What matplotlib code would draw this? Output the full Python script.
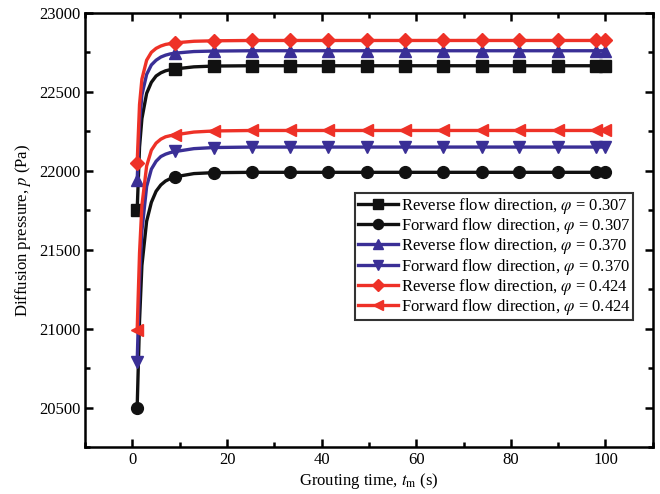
import matplotlib
matplotlib.use("Agg")
import matplotlib.pyplot as plt
import numpy as np
from matplotlib.ticker import MultipleLocator

plt.rcParams["font.family"] = ["Liberation Serif", "DejaVu Serif"]
plt.rcParams["mathtext.fontset"] = "stix"

# grouting time (s); marked points are a subset
t = [1, 1.5, 2, 3, 4, 5, 6, 7, 8, 9.1, 13, 17.2, 25.3, 33.3, 41.4, 49.5,
     57.6, 65.7, 73.8, 81.8, 89.9, 98, 100]
t_marks = [1, 9.1, 17.2, 25.3, 33.3, 41.4, 49.5, 57.6, 65.7, 73.8, 81.8,
           89.9, 98, 100]

rev_307 = [21750, 22150, 22330, 22490, 22560, 22600, 22620, 22633, 22640, 22645,
           22658, 22663] + [22665] * 11
fwd_307 = [20500, 21050, 21400, 21680, 21800, 21870, 21910, 21935, 21950, 21962,
           21982, 21988] + [21990] * 11
rev_370 = [21940, 22300, 22480, 22610, 22670, 22700, 22720, 22732, 22740, 22745,
           22755, 22758] + [22760] * 11
fwd_370 = [20790, 21300, 21620, 21900, 22010, 22060, 22090, 22105, 22115, 22122,
           22140, 22147] + [22150] * 11
rev_424 = [22050, 22420, 22580, 22700, 22750, 22775, 22790, 22800, 22805, 22810,
           22820, 22823] + [22825] * 11
fwd_424 = [20990, 21480, 21780, 22030, 22130, 22175, 22200, 22215, 22222, 22228,
           22245, 22252] + [22255] * 11

black = "#111111"
blue = "#3a2f96"
red = "#ee3127"

series = [
    (rev_307, black, "s", "Reverse flow direction, $\\varphi$ = 0.307"),
    (fwd_307, black, "o", "Forward flow direction, $\\varphi$ = 0.307"),
    (rev_370, blue, "^", "Reverse flow direction, $\\varphi$ = 0.370"),
    (fwd_370, blue, "v", "Forward flow direction, $\\varphi$ = 0.370"),
    (rev_424, red, "D", "Reverse flow direction, $\\varphi$ = 0.424"),
    (fwd_424, red, "<", "Forward flow direction, $\\varphi$ = 0.424"),
]

marks = [i for i, v in enumerate(t) if v in t_marks]

fig = plt.figure(figsize=(6.6, 4.94), dpi=100)
ax = fig.add_axes([0.129, 0.095, 0.860, 0.879])

for y, c, m, lab in series:
    ms = 7 if m == "D" else 8.5
    ax.plot(t, y, color=c, lw=2.4, marker=m, markersize=ms, markevery=marks,
            label=lab)

ax.set_xlim(-10, 110)
ax.set_ylim(20250, 23000)
ax.xaxis.set_major_locator(MultipleLocator(20))
ax.xaxis.set_minor_locator(MultipleLocator(10))
ax.yaxis.set_major_locator(MultipleLocator(500))
ax.yaxis.set_minor_locator(MultipleLocator(250))
ax.tick_params(which="both", direction="in", top=True, right=True,
               labeltop=False, labelright=False, labelsize=12)
ax.tick_params(which="major", length=6, width=1.8)
ax.tick_params(which="minor", length=3.5, width=1.8)
for s in ax.spines.values():
    s.set_linewidth(1.8)

ax.set_xlabel("Grouting time, $t_\\mathrm{m}$ (s)", fontsize=12, labelpad=2)
ax.set_ylabel("Diffusion pressure, $p$ (Pa)", fontsize=12, labelpad=4)

leg = ax.legend(loc="upper left", bbox_to_anchor=(0.476, 0.585), fontsize=12,
                frameon=True, fancybox=False, edgecolor="black",
                handlelength=2.4, handletextpad=0.2, labelspacing=0.02,
                borderpad=0.15, borderaxespad=0, markerscale=0.85)
leg.get_frame().set_linewidth(1.5)

fig.savefig("out.png", dpi=100)
